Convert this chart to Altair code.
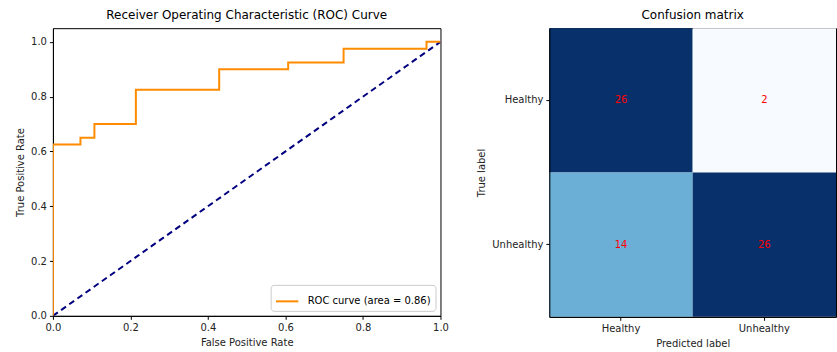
import altair as alt
import pandas as pd

# ROC curve points (step curve)
fpr = [0.0, 0.0, 0.071, 0.071, 0.107, 0.107, 0.214, 0.214, 0.429, 0.429,
       0.607, 0.607, 0.75, 0.75, 0.964, 0.964, 1.0]
tpr = [0.0, 0.625, 0.625, 0.65, 0.65, 0.70, 0.70, 0.825, 0.825, 0.90,
       0.90, 0.925, 0.925, 0.975, 0.975, 1.0, 1.0]
roc_label = "ROC curve (area = 0.86)"
diag_x = [0.0, 1.0]
diag_y = [0.0, 1.0]

# Confusion matrix
true_labels = ["Healthy", "Healthy", "Unhealthy", "Unhealthy"]
pred_labels = ["Healthy", "Unhealthy", "Healthy", "Unhealthy"]
counts = [26, 2, 14, 26]
classes = ["Healthy", "Unhealthy"]

# matplotlib "Blues" colormap stops
blues = ["#f7fbff", "#deebf7", "#c6dbef", "#9ecae1", "#6baed6",
         "#4292c6", "#2171b5", "#08519c", "#08306b"]

FONT = "DejaVu Sans"

roc_df = pd.DataFrame({"fpr": fpr, "tpr": tpr, "order": list(range(len(fpr))),
                       "series": [roc_label] * len(fpr)})
diag_df = pd.DataFrame({"fpr": diag_x, "tpr": diag_y})
cm_df = pd.DataFrame({"true": true_labels, "pred": pred_labels, "count": counts})

xscale = alt.Scale(domain=[0, 1], nice=False, zero=False)
yscale = alt.Scale(domain=[0, 1.05], nice=False, zero=False)
ticks = [0.0, 0.2, 0.4, 0.6, 0.8, 1.0]

diag = alt.Chart(diag_df).mark_line(color="navy", strokeWidth=2, strokeDash=[6, 4], clip=True).encode(
    x=alt.X("fpr:Q", scale=xscale, axis=alt.Axis(title="False Positive Rate", values=ticks, format=".1f")),
    y=alt.Y("tpr:Q", scale=yscale, axis=alt.Axis(title="True Positive Rate", values=ticks, format=".1f")),
)

roc = alt.Chart(roc_df).mark_line(strokeWidth=2, clip=True).encode(
    x=alt.X("fpr:Q", scale=xscale),
    y=alt.Y("tpr:Q", scale=yscale),
    order="order:Q",
    color=alt.Color("series:N", scale=alt.Scale(domain=[roc_label], range=["darkorange"]),
                    legend=alt.Legend(title=None, orient="bottom-right", symbolType="stroke",
                                      symbolStrokeWidth=2, symbolSize=500,
                                      fillColor="white", strokeColor="#cccccc", padding=4,
                                      cornerRadius=3, labelFontSize=10, labelFont=FONT,
                                      labelOffset=8, offset=5)),
)

left = alt.layer(diag, roc).properties(
    width=388, height=288,
    title=alt.TitleParams("Receiver Operating Characteristic (ROC) Curve", fontSize=12,
                          font=FONT, fontWeight="normal", offset=6),
)

rect = alt.Chart(cm_df).mark_rect().encode(
    x=alt.X("pred:N", sort=classes, scale=alt.Scale(paddingInner=0, paddingOuter=0),
            axis=alt.Axis(title="Predicted label", labelAngle=0)),
    y=alt.Y("true:N", sort=classes, scale=alt.Scale(paddingInner=0, paddingOuter=0),
            axis=alt.Axis(title="True label")),
    color=alt.Color("count:Q", scale=alt.Scale(domain=[2, 26], range=blues), legend=None),
)
text = alt.Chart(cm_df).mark_text(color="red", fontSize=10, font=FONT).encode(
    x=alt.X("pred:N", sort=classes),
    y=alt.Y("true:N", sort=classes),
    text="count:Q",
)
right = alt.layer(rect, text).properties(
    width=287, height=289,
    title=alt.TitleParams("Confusion matrix", fontSize=12, font=FONT, fontWeight="normal", offset=6),
)

chart = alt.hconcat(left, right, spacing=26).properties(
    padding={"left": 15, "top": 8, "right": 0, "bottom": 2},
    background="white",
).configure_view(stroke="black", strokeWidth=1).configure_axis(
    grid=False, domainColor="black", tickColor="black", labelColor="#222222",
    titleColor="#222222", labelFont=FONT, titleFont=FONT, labelFontSize=10,
    titleFontSize=10, titleFontWeight="normal", tickSize=3.5, labelPadding=3,
    titlePadding=5, labelFlush=False,
)

chart.save("out.html", embed_options={"renderer": "svg", "actions": False})
